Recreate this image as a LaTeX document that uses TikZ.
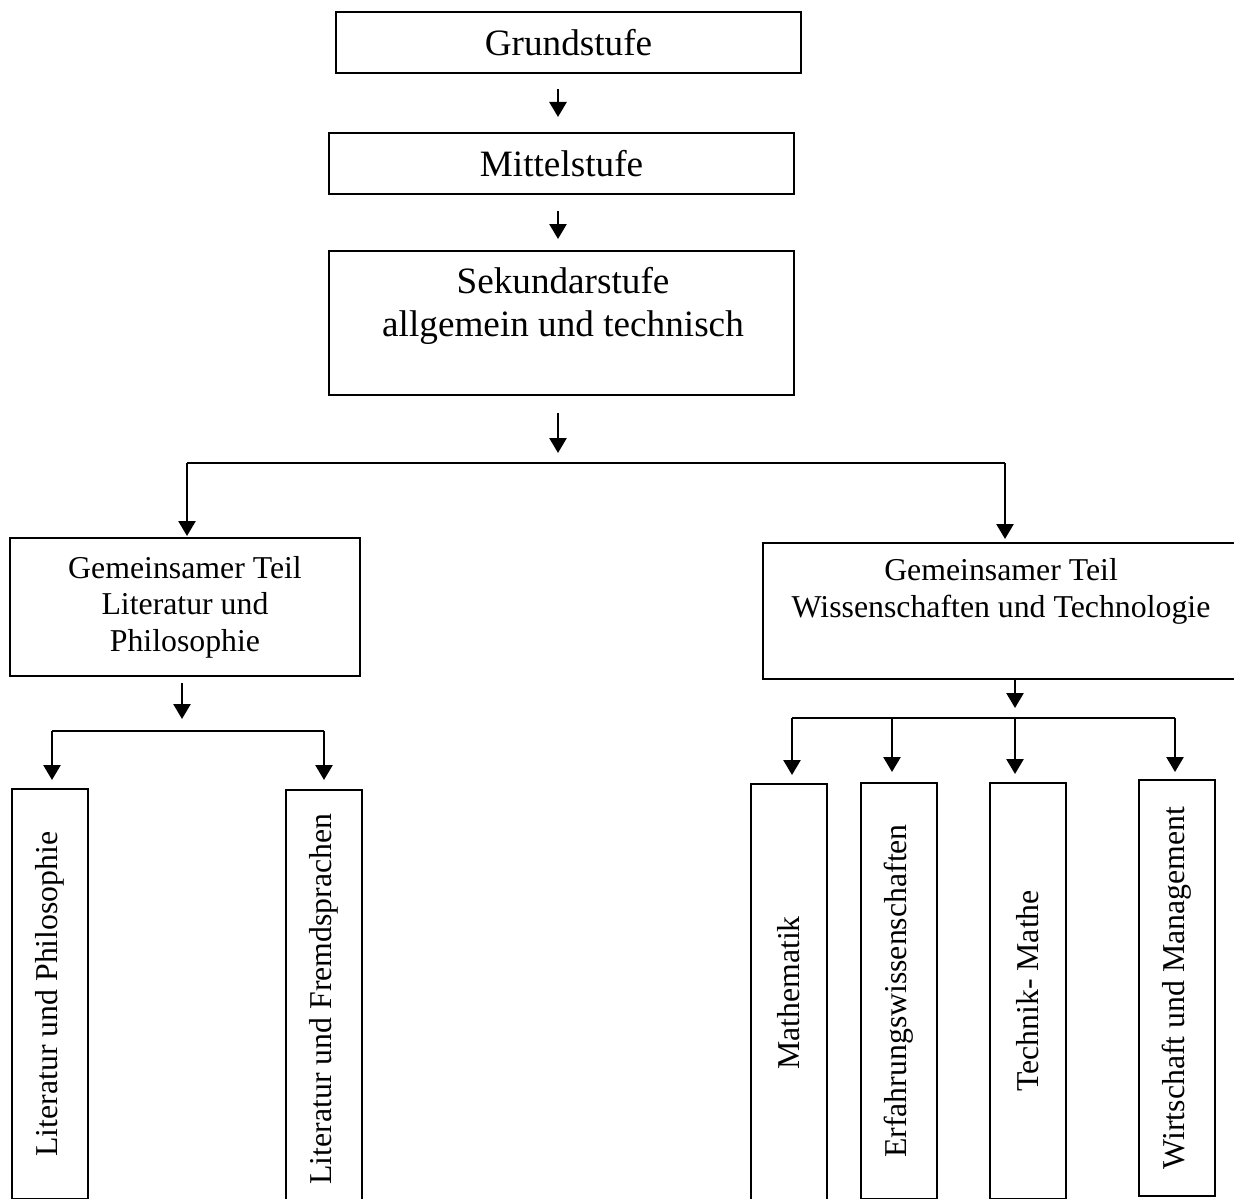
\documentclass[tikz,border=0pt]{standalone}
\usepackage{fontspec}
\setmainfont{Liberation Serif}
\usetikzlibrary{arrows.meta,calc}
\begin{document}
\begin{tikzpicture}[x=0.5pt,y=-0.5pt,
  boxst/.style={draw, line width=1pt, inner sep=0pt, align=center},
  fbig/.style={font=\fontsize{18.6}{21.5}\selectfont},
  fsmall/.style={font=\fontsize{15.9}{18.25}\selectfont},
  arr/.style={line width=1.3pt, -{Triangle[width=8.5pt,length=7.5pt]}},
  barln/.style={line width=1pt},
  vcol/.style={boxst, fsmall, rotate=90, minimum height=38pt, anchor=east}]
\clip (0,0) rectangle (1234,1198);
% top chain
\node[boxst,fbig,minimum width=232.5pt,minimum height=30.5pt] (g) at (568.5,42.5) {Grundstufe};
\node[boxst,fbig,minimum width=232.5pt,minimum height=30.5pt] (m) at (561.5,163.5) {Mittelstufe};
\node[boxst,minimum width=232.5pt,minimum height=72pt] (s) at (561.5,323) {};
\node[fbig,align=center] (st) at (563,305.5) {Sekundarstufe\\allgemein und technisch};
% second level
\node[boxst,fsmall,minimum width=175pt,minimum height=69pt] (lb) at (185,607) {Gemeinsamer Teil\\Literatur und\\Philosophie};
\node[boxst,minimum width=241pt,minimum height=68pt] (rb) at (1004,611) {};
\node[fsmall,align=center] (rbt) at (1001,591.5) {Gemeinsamer Teil\\Wissenschaften und Technologie};
% vertical boxes
\node[vcol,minimum width=205pt] (lp) at (50,788) {Literatur und Philosophie};
\node[vcol,minimum width=209pt] (lf) at (324,789) {Literatur und Fremdsprachen};
\node[vcol,minimum width=209pt] (ma) at (788.5,783) {Mathematik};
\node[vcol,minimum width=208pt] (er) at (898.5,782) {Erfahrungswissenschaften};
\node[vcol,minimum width=208pt] (te) at (1027.5,782) {Technik- Mathe};
\node[vcol,minimum width=208pt] (wi) at (1176.5,779) {Wirtschaft und Management};
% connectors top
\path ([xshift=-1.75pt]m.north) coordinate (mN);
\path ([xshift=-1.75pt]s.north) coordinate (sN);
\draw[arr, shorten <=7.5pt, shorten >=7.5pt] (mN |- g.south) -- (mN);
\draw[arr, shorten <=8pt, shorten >=5.5pt] (sN |- m.south) -- (sN);
\coordinate (j) at (558,463);
\coordinate (jl) at (187,463);
\coordinate (jr) at (1005,463);
\draw[arr, shorten <=8.5pt, shorten >=5pt] (s.south -| j) -- (j);
\draw[barln] (jl) -- (jr);
\draw[arr, shorten >=0.5pt] (jl) -- (jl |- lb.north);
\draw[arr, shorten >=1.5pt] (jr) -- (jr |- rb.north);
% left branch
\coordinate (k) at (182,731);
\coordinate (kl) at (52,731);
\coordinate (kr) at (324,731);
\draw[arr, shorten <=3pt, shorten >=6pt] (lb.south -| k) -- (k);
\draw[barln] (kl) -- (kr);
\draw[arr, shorten >=4pt] (kl) -- (kl |- lp.east);
\draw[arr, shorten >=4.5pt] (kr) -- (kr |- lf.east);
% right branch
\coordinate (n) at (1015,718);
\coordinate (n1) at (792,718);
\coordinate (n2) at (892,718);
\coordinate (n4) at (1175,718);
\draw[arr, shorten >=5pt] (rb.south -| n) -- (n);
\draw[barln] (n1) -- (n4);
\draw[arr, shorten >=4pt] (n1) -- (n1 |- ma.east);
\draw[arr, shorten >=5pt] (n2) -- (n2 |- er.east);
\draw[arr, shorten >=4pt] (n) -- (n |- te.east);
\draw[arr, shorten >=3.5pt] (n4) -- (n4 |- wi.east);
\end{tikzpicture}
\end{document}
